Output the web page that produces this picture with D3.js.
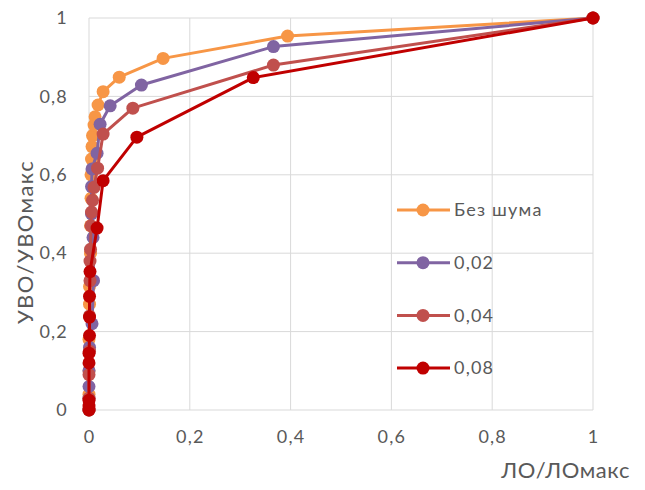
<!DOCTYPE html>
<html>
<head>
<meta charset="utf-8">
<script src="https://cdn.jsdelivr.net/npm/d3@7"></script>
<style>
  body { margin: 0; background: #fff; }
  svg { display: block; font-family: Lato, "Open Sans", sans-serif; }
</style>
</head>
<body>
<svg id="chart" width="645" height="490"></svg>
<script>
// ======================
// Dades
// ======================
const seriesNames = ["Без шума", "0,02", "0,04", "0,08"];
const seriesColors = ["#F79646", "#8064A2", "#C0504D", "#C00000"];

const noNoise = [
  [0, 0], [0, 0.04], [0, 0.1], [0, 0.18], [0.001, 0.27], [0.001, 0.315],
  [0.003, 0.4], [0.003, 0.47], [0.004, 0.54], [0.004, 0.6], [0.005, 0.64],
  [0.006, 0.672], [0.007, 0.7], [0.01, 0.727], [0.012, 0.748], [0.018, 0.778],
  [0.028, 0.812], [0.06, 0.849], [0.147, 0.897], [0.394, 0.954], [1, 1]
];
const noise002 = [
  [0, 0], [0, 0.03], [0, 0.06], [0, 0.1], [0.001, 0.16], [0.006, 0.22],
  [0.009, 0.33], [0.008, 0.44], [0.005, 0.5], [0.005, 0.57], [0.006, 0.615],
  [0.016, 0.655], [0.022, 0.729], [0.042, 0.776], [0.104, 0.829],
  [0.366, 0.927], [1, 1]
];
const noise004 = [
  [0, 0], [0, 0.03], [0, 0.09], [0.001, 0.15], [0.001, 0.24], [0.002, 0.33],
  [0.002, 0.38], [0.003, 0.41], [0.004, 0.47], [0.005, 0.505], [0.007, 0.535],
  [0.01, 0.568], [0.017, 0.617], [0.028, 0.704], [0.087, 0.77],
  [0.366, 0.88], [1, 1]
];
const noise008 = [
  [0, 0], [0, 0.01], [0, 0.025], [0, 0.12], [0, 0.145], [0.001, 0.19],
  [0.001, 0.237], [0.001, 0.29], [0.002, 0.353], [0.016, 0.464],
  [0.028, 0.585], [0.095, 0.696], [0.326, 0.848], [1, 1]
];
const seriesData = [noNoise, noise002, noise004, noise008];

const xTicks = [0, 0.2, 0.4, 0.6, 0.8, 1];
const yTicks = [0, 0.2, 0.4, 0.6, 0.8, 1];
const xTitle = "ЛО/ЛОмакс";
const yTitle = "УВО/УВОмакс";

// ======================
// Escales
// ======================
const svg = d3.select("#chart");
const margin = { left: 89, right: 52, top: 18, bottom: 80 };
const width = 645, height = 490;

const x = d3.scaleLinear().domain([0, 1]).range([margin.left, width - margin.right]);
const y = d3.scaleLinear().domain([0, 1]).range([height - margin.bottom, margin.top]);

const fmt = d => String(d).replace(".", ",");
const textColor = "#595959";

// Graella
svg.append("g")
  .selectAll("line")
  .data(yTicks)
  .enter()
  .append("line")
  .attr("x1", x(0)).attr("x2", x(1))
  .attr("y1", d => y(d)).attr("y2", d => y(d))
  .attr("stroke", "#D9D9D9")
  .attr("stroke-width", 1);

svg.append("g")
  .selectAll("line")
  .data(xTicks)
  .enter()
  .append("line")
  .attr("x1", d => x(d)).attr("x2", d => x(d))
  .attr("y1", y(0)).attr("y2", y(1))
  .attr("stroke", "#D9D9D9")
  .attr("stroke-width", 1);

// Etiquetes eixos
const xAxis = svg.append("g")
  .attr("transform", `translate(0, ${y(0) + 17})`)
  .call(d3.axisBottom(x).tickValues(xTicks).tickFormat(fmt).tickSize(0));
xAxis.select(".domain").remove();
xAxis.selectAll("text")
  .attr("dy", "0.71em")
  .style("font-size", "18px")
  .style("letter-spacing", "1.2px")
  .style("font-family", "Lato, sans-serif")
  .style("fill", textColor);

const yAxis = svg.append("g")
  .attr("transform", `translate(${x(0) - 21}, 0)`)
  .call(d3.axisLeft(y).tickValues(yTicks).tickFormat(fmt).tickSize(0));
yAxis.select(".domain").remove();
yAxis.selectAll("text")
  .attr("x", 0)
  .style("font-size", "18px")
  .style("letter-spacing", "1.2px")
  .style("font-family", "Lato, sans-serif")
  .style("fill", textColor);

// Títols
svg.append("text")
  .attr("x", 630)
  .attr("y", 478)
  .attr("text-anchor", "end")
  .text(xTitle)
  .style("font-size", "22px")
  .style("letter-spacing", "0.6px")
  .style("fill", textColor);

svg.append("text")
  .attr("transform", `translate(33, ${(y(0) + y(1)) / 2 + 28}) rotate(-90)`)
  .attr("text-anchor", "middle")
  .text(yTitle)
  .style("font-size", "22px")
  .style("letter-spacing", "1.4px")
  .style("fill", textColor);

// ======================
// Sèries
// ======================
const line = d3.line().x(d => x(d[0])).y(d => y(d[1]));

seriesData.forEach((data, i) => {
  const g = svg.append("g");
  g.append("path")
    .datum(data)
    .attr("d", line)
    .attr("fill", "none")
    .attr("stroke", seriesColors[i])
    .attr("stroke-width", 3)
    .attr("stroke-linejoin", "round");
  g.selectAll("circle")
    .data(data)
    .enter()
    .append("circle")
    .attr("cx", d => x(d[0]))
    .attr("cy", d => y(d[1]))
    .attr("r", 6.5)
    .attr("fill", seriesColors[i]);
});

// ======================
// Llegenda
// ======================
const legend = svg.append("g").attr("transform", "translate(397, 210)");
seriesNames.forEach((name, i) => {
  const item = legend.append("g").attr("transform", `translate(0, ${i * 52.7})`);
  item.append("line")
    .attr("x1", 0).attr("x2", 53)
    .attr("stroke", seriesColors[i])
    .attr("stroke-width", 3);
  item.append("circle")
    .attr("cx", 26).attr("r", 6.5)
    .attr("fill", seriesColors[i]);
  item.append("text")
    .attr("x", 57)
    .attr("dy", "0.35em")
    .text(name)
    .style("font-size", "18px")
    .style("letter-spacing", "1.2px")
    .style("fill", textColor);
});
</script>
</body>
</html>
